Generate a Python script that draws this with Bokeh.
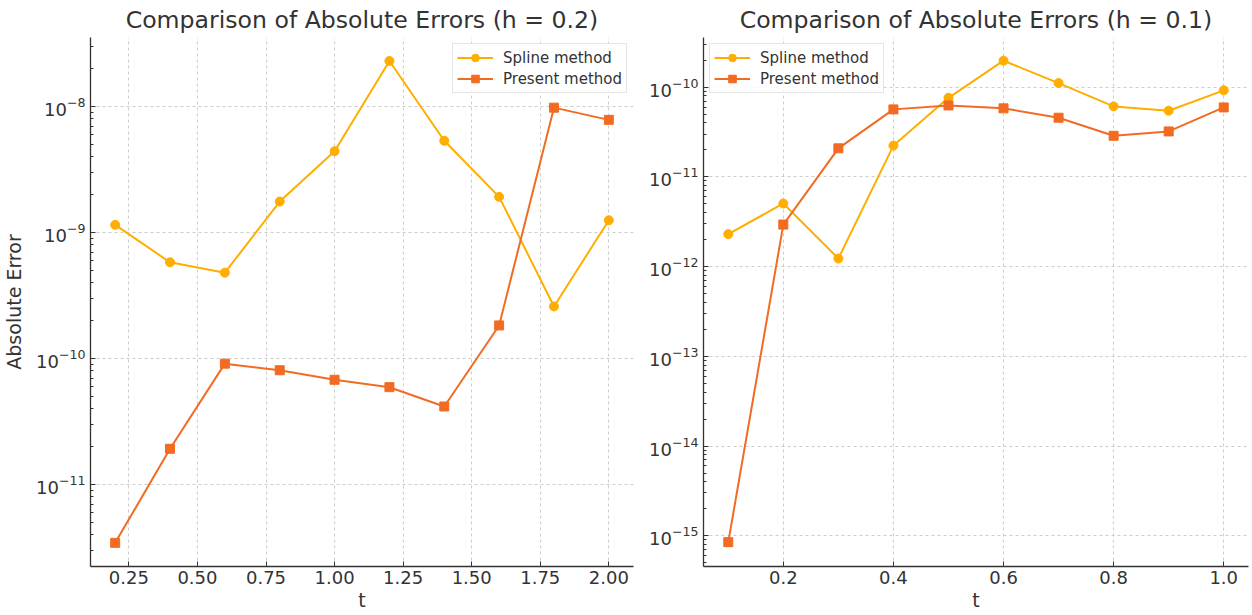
from bokeh.plotting import figure
from bokeh.layouts import row
from bokeh.models import Range1d, FixedTicker, LogTickFormatter, Legend
from bokeh.embed import file_html
from bokeh.resources import INLINE

# ---- data ----
t_h02 = [0.2, 0.4, 0.6, 0.8, 1.0, 1.2, 1.4, 1.6, 1.8, 2.0]
spline_h02 = [1.15e-9, 5.8e-10, 4.8e-10, 1.76e-9, 4.42e-9, 2.3e-8, 5.35e-9, 1.92e-9, 2.59e-10, 1.25e-9]
present_h02 = [3.44e-12, 1.92e-11, 9.1e-11, 8.07e-11, 6.78e-11, 5.92e-11, 4.16e-11, 1.83e-10, 9.8e-9, 7.84e-9]

t_h01 = [0.1, 0.2, 0.3, 0.4, 0.5, 0.6, 0.7, 0.8, 0.9, 1.0]
spline_h01 = [2.3e-12, 5.05e-12, 1.23e-12, 2.23e-11, 7.6e-11, 1.97e-10, 1.11e-10, 6.1e-11, 5.46e-11, 9.2e-11]
present_h01 = [8.5e-16, 2.94e-12, 2.08e-11, 5.65e-11, 6.25e-11, 5.8e-11, 4.56e-11, 2.87e-11, 3.21e-11, 5.94e-11]

x_ticks_h02 = [0.25, 0.5, 0.75, 1.0, 1.25, 1.5, 1.75, 2.0]
x_labels_h02 = ["0.25", "0.50", "0.75", "1.00", "1.25", "1.50", "1.75", "2.00"]
x_ticks_h01 = [0.2, 0.4, 0.6, 0.8, 1.0]
x_labels_h01 = ["0.2", "0.4", "0.6", "0.8", "1.0"]
y_exp_h02 = [-11, -10, -9, -8]
y_exp_h01 = [-15, -14, -13, -12, -11, -10]

SPLINE_C = "#FFAE00"
PRESENT_C = "#F26B22"
TXT = "#333333"
FONT = "DejaVu Sans"


def minor(exps):
    lo, hi = min(exps) - 1, max(exps) + 1
    return [k * 10.0 ** e for e in range(lo, hi + 1) for k in range(2, 10)]


def make(title, t, spl, pre, xr, yr, xt, xl, yexp, ylabel, loc, w, bl, br):
    p = figure(width=w, height=615, y_axis_type="log", x_range=xr, y_range=yr,
               output_backend="svg", toolbar_location=None,
               min_border_left=bl, min_border_right=br, min_border_top=37,
               min_border_bottom=49)
    p.outline_line_color = None
    p.title.text = title
    p.title.align = "center"
    p.title.text_font = FONT
    p.title.text_font_size = "23.6px"
    p.title.text_font_style = "normal"
    p.title.text_color = TXT
    p.title.standoff = 7

    r1 = p.line(t, spl, line_color=SPLINE_C, line_width=2)
    s1 = p.scatter(t, spl, marker="circle", size=9, fill_color=SPLINE_C, line_color=SPLINE_C)
    r2 = p.line(t, pre, line_color=PRESENT_C, line_width=2)
    s2 = p.scatter(t, pre, marker="square", size=9, fill_color=PRESENT_C, line_color=PRESENT_C)

    legend = Legend(items=[("Spline method", [r1, s1]), ("Present method", [r2, s2])],
                    location=loc)
    legend.label_text_font = FONT
    legend.label_text_font_size = "15px"
    legend.label_text_color = TXT
    legend.border_line_color = "#cccccc"
    legend.border_line_width = 1
    legend.background_fill_alpha = 0.85
    legend.margin = 6
    legend.padding = 4
    legend.spacing = 2
    legend.glyph_width = 36
    legend.label_standoff = 10
    legend.label_height = 19
    legend.glyph_height = 19
    p.add_layout(legend, "center")

    yt = [10.0 ** e for e in yexp]
    p.yaxis.ticker = FixedTicker(ticks=yt, minor_ticks=minor(yexp))
    p.yaxis.formatter = LogTickFormatter()
    p.xaxis.ticker = FixedTicker(ticks=xt)
    p.xaxis.major_label_overrides = {v: s for v, s in zip(xt, xl)}

    for ax in (p.xaxis, p.yaxis):
        ax.axis_line_color = TXT
        ax.axis_line_width = 1.3
        ax.major_tick_in = 5
        ax.major_tick_out = 0
        ax.minor_tick_in = 3
        ax.minor_tick_out = 0
        ax.major_tick_line_color = TXT
        ax.minor_tick_line_color = TXT
        ax.major_label_text_font = FONT
        ax.major_label_text_font_size = "18px"
        ax.major_label_text_color = TXT
        ax.axis_label_text_font = FONT
        ax.axis_label_text_font_size = "19px"
        ax.axis_label_text_font_style = "normal"
        ax.axis_label_text_color = TXT
    p.xaxis.minor_tick_in = 0
    p.xaxis.axis_label = "t"
    p.xaxis.axis_label_standoff = 2
    p.xaxis.major_label_standoff = 4
    if ylabel:
        p.yaxis.axis_label = ylabel
        p.yaxis.axis_label_standoff = 8

    p.grid.grid_line_color = "#cccccc"
    p.grid.grid_line_dash = "3 3"
    p.grid.grid_line_width = 1
    return p


p1 = make("Comparison of Absolute Errors (h = 0.2)", t_h02, spline_h02, present_h02,
          Range1d(0.11, 2.09), Range1d(10 ** -11.651, 10 ** -7.452),
          x_ticks_h02, x_labels_h02, y_exp_h02, "Absolute Error", "top_right", 634, 89, 1)
p2 = make("Comparison of Absolute Errors (h = 0.1)", t_h01, spline_h01, present_h01,
          Range1d(0.055, 1.045), Range1d(10 ** -15.342, 10 ** -9.447),
          x_ticks_h01, x_labels_h01, y_exp_h01, None, "top_left", 618, 69, 4)

layout = row(p1, p2, spacing=0)
open("out.html", "w").write(file_html(layout, INLINE))
